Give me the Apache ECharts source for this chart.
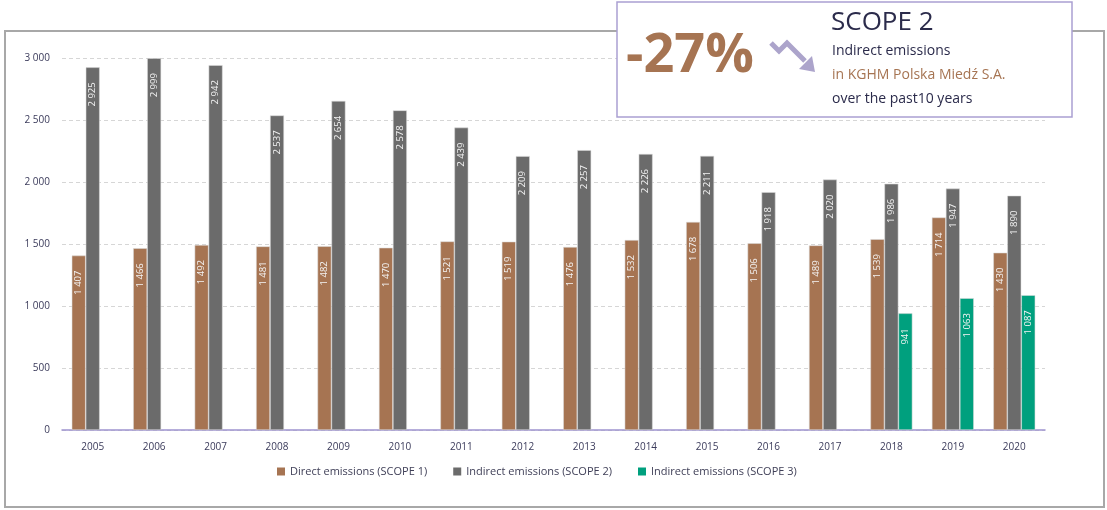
<!DOCTYPE html>
<html>
<head>
<meta charset="utf-8">
<script src="https://cdn.jsdelivr.net/npm/echarts@6/dist/echarts.min.js"></script>
<style>
html,body{margin:0;padding:0;background:#fff;}
#chart{width:1107px;height:510px;}
</style>
</head>
<body>
<div id="chart"></div>
<script>
const years = ['2005','2006','2007','2008','2009','2010','2011','2012','2013','2014','2015','2016','2017','2018','2019','2020'];
const scope1 = [1407,1466,1492,1481,1482,1470,1521,1519,1476,1532,1678,1506,1489,1539,1714,1430];
const scope2 = [2925,2999,2942,2537,2654,2578,2439,2209,2257,2226,2211,1918,2020,1986,1947,1890];
const scope3 = [null,null,null,null,null,null,null,null,null,null,null,null,null,941,1063,1087];
const seriesNames = ['Direct emissions (SCOPE 1)','Indirect emissions (SCOPE 2)','Indirect emissions (SCOPE 3)'];
const colors = ['#a67452','#6b6b6b','#00a07e'];
const yTicks = [0,500,1000,1500,2000,2500,3000];

function fmt(v){
  return String(v).replace(/\B(?=(\d{3})+(?!\d))/g,' ');
}

const chart = echarts.init(document.getElementById('chart'));
const font = '"Open Sans", sans-serif';

function mkSeries(name, data, color){
  return {
    name: name,
    type: 'bar',
    data: data,
    barWidth: 14,
    barGap: '0%',
    itemStyle: {color: color, borderColor: 'rgba(220,220,220,0.9)', borderWidth: 0.6},
    label: {
      show: true,
      position: 'insideTop',
      rotate: 90,
      align: 'right',
      verticalAlign: 'middle',
      distance: 15,
      color: '#f4f4f4',
      fontSize: 9.5,
      fontFamily: font,
      formatter: p => p.value == null ? '' : fmt(p.value)
    }
  };
}

chart.setOption({
  animation: false,
  textStyle: {fontFamily: font},
  grid: {left: 62, right: 62, top: 58, bottom: 80},
  legend: {
    top: 461,
    left: 272,
    icon: 'rect',
    itemWidth: 8,
    itemHeight: 8,
    itemGap: 26,
    itemStyle: {borderWidth: 0},
    textStyle: {fontSize: 11, color: '#404058', fontFamily: font},
    data: seriesNames
  },
  xAxis: {
    type: 'category',
    data: years,
    axisLine: {lineStyle: {color: '#9f94d0', width: 1.5}},
    axisTick: {show: false},
    axisLabel: {color: '#3b3b5b', fontSize: 10, margin: 12, fontFamily: font}
  },
  yAxis: {
    type: 'value',
    min: 0,
    max: 3000,
    interval: 500,
    axisLine: {show: false},
    axisTick: {show: false},
    axisLabel: {color: '#3b3b5b', fontSize: 10, margin: 12, fontFamily: font,
      formatter: v => yTicks.includes(v) ? fmt(v) : ''},
    splitLine: {lineStyle: {color: '#d6d6d6', type: [4,3], width: 1}}
  },
  series: [
    mkSeries(seriesNames[0], scope1, colors[0]),
    mkSeries(seriesNames[1], scope2, colors[1]),
    mkSeries(seriesNames[2], scope3, colors[2])
  ],
  graphic: [
    {type: 'rect', z: -10, shape: {x: 5, y: 31, width: 1099, height: 476},
     style: {fill: 'none', stroke: '#a8a8a8', lineWidth: 2}},
    {type: 'rect', z: 100, shape: {x: 617, y: 2, width: 455, height: 115},
     style: {fill: '#ffffff', stroke: '#aaa0d2', lineWidth: 1.5}},
    {type: 'text', z: 101, x: 626, y: 57,
     style: {text: '-27%', fill: '#a67452', font: 'bold 54px "Open Sans", sans-serif', textVerticalAlign: 'middle'}},
    {type: 'polyline', z: 101, shape: {points: [[771,43],[779,51],[787,43],[805,61]]},
     style: {stroke: '#aca4cb', lineWidth: 5, fill: 'none', lineJoin: 'miter'}},
    {type: 'polygon', z: 101, shape: {points: [[815,72],[799,69],[812,56]]},
     style: {fill: '#aca4cb'}},
    {type: 'text', z: 101, x: 831, y: 23,
     style: {text: 'SCOPE 2', fill: '#2b2b4b', font: '26px "Open Sans", sans-serif', textVerticalAlign: 'middle'}},
    {type: 'text', z: 101, x: 832, y: 51,
     style: {text: 'Indirect emissions', fill: '#2b2b4b', font: '14px "Open Sans", sans-serif', textVerticalAlign: 'middle'}},
    {type: 'text', z: 101, x: 832, y: 75,
     style: {text: 'in KGHM Polska Miedź S.A.', fill: '#a67452', font: '14px "Open Sans", sans-serif', textVerticalAlign: 'middle'}},
    {type: 'text', z: 101, x: 832, y: 99,
     style: {text: 'over the past10 years', fill: '#2b2b4b', font: '14px "Open Sans", sans-serif', textVerticalAlign: 'middle'}}
  ]
});
</script>
</body>
</html>
